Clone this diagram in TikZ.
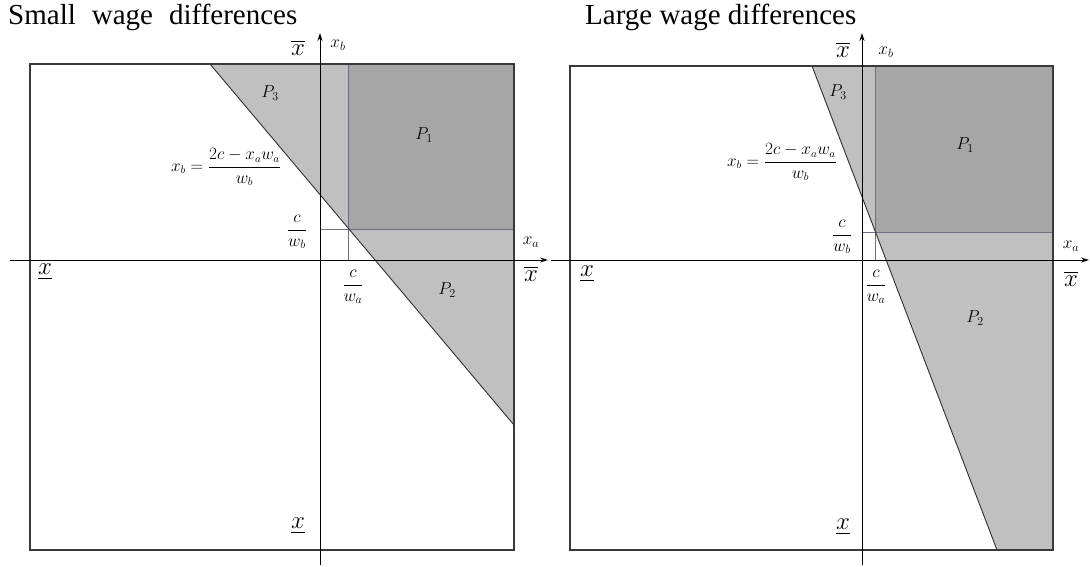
\documentclass[tikz,border=0pt]{standalone}
\usepackage{amsmath}
\usepackage{fontspec}
\setmainfont{Liberation Serif}
\usetikzlibrary{arrows.meta}
\definecolor{darkfill}{HTML}{A6A6A6}
\definecolor{lightfill}{HTML}{C0C0C0}
\definecolor{boxline}{HTML}{3A3A3A}
\definecolor{guideline}{HTML}{6E6E7C}
\definecolor{cutline}{HTML}{2E2E3A}
\begin{document}
\begin{tikzpicture}[x=1pt, y=-1pt,
  boxframe/.style={draw=boxline, line width=1.3pt},
  axis/.style={-{Stealth[length=8pt,width=5pt]}, line width=0.9pt, black},
  guide/.style={draw=guideline, line width=0.8pt},
  cut/.style={draw=cutline, line width=0.9pt},
  bound/.style={font=\fontsize{26}{28}\selectfont, inner sep=1pt},
  var/.style={font=\fontsize{18}{20}\selectfont, inner sep=1pt},
  frac/.style={font=\fontsize{18}{20}\selectfont, inner sep=1pt},
  formula/.style={font=\fontsize{16}{18}\selectfont, inner sep=1pt},
  region/.style={font=\fontsize{17}{19}\selectfont, inner sep=1pt},
  ttl/.style={font=\fontsize{29}{32}\selectfont, anchor=west, inner sep=0pt}]
\useasboundingbox (0,0) rectangle (1090,567);
% Small wage differences
\fill[lightfill] (210,64) -- (514,64) -- (514,425) -- cycle;
\fill[darkfill] (348,64) rectangle (514,229);
\draw[guide] (348,64) -- (348,260);
\draw[guide] (320,229) -- (514,229);
\draw[cut] (210,64) -- (514,425);
\draw[boxframe] (30,64) rectangle (514,550);
\draw[axis] (10,260) -- (548,260);
\draw[axis] (320,565) -- (320,33);
\node[ttl] (titleL) at (8,17) {\spaceskip=16pt Small wage differences};
\node[bound] (xbarL) at (298,48) {$\overline{x}$};
\node[var] (xbL) at (338,45) {$x_b$};
\node[var] (xaL) at (531,242) {$x_a$};
\node[bound] (xbarAL) at (531,274) {$\overline{x}$};
\node[bound] (xlowL) at (45,272) {$\underline{x}$};
\node[bound] (xlowBL) at (298,526) {$\underline{x}$};
\node[frac] (cwbL) at (297,232) {$\dfrac{c}{w_b}$};
\node[frac] (cwaL) at (353,287) {$\dfrac{c}{w_a}$};
\node[formula] (lineL) at (226,167) {$x_b=\dfrac{2c-x_aw_a}{w_b}$};
\node[region] (pThreeL) at (270,93) {$P_3$};
\node[region] (pOneL) at (424,135) {$P_1$};
\node[region] (pTwoL) at (447,290) {$P_2$};
% Large wage differences
\fill[lightfill] (812,66) -- (1053,66) -- (1053,550) -- (997,550) -- cycle;
\fill[darkfill] (875,66) rectangle (1053,232);
\draw[guide] (875,66) -- (875,260);
\draw[guide] (862,232) -- (1053,232);
\draw[cut] (812,66) -- (997,550);
\draw[boxframe] (570,66) rectangle (1053,550);
\draw[axis] (551,260) -- (1089,260);
\draw[axis] (862,565) -- (862,33);
\node[ttl] (titleR) at (585,17) {Large wage differences};
\node[bound] (xbarR) at (843,50) {$\overline{x}$};
\node[var] (xbR) at (886,52) {$x_b$};
\node[var] (xaR) at (1071,246) {$x_a$};
\node[bound] (xbarAR) at (1071,279) {$\overline{x}$};
\node[bound] (xlowR) at (587,274) {$\underline{x}$};
\node[bound] (xlowBR) at (843,527) {$\underline{x}$};
\node[frac] (cwbR) at (842,237) {$\dfrac{c}{w_b}$};
\node[frac] (cwaR) at (876,287) {$\dfrac{c}{w_a}$};
\node[formula] (lineR) at (782,162) {$x_b=\dfrac{2c-x_aw_a}{w_b}$};
\node[region] (pThreeR) at (838,92) {$P_3$};
\node[region] (pOneR) at (965,145) {$P_1$};
\node[region] (pTwoR) at (975,318) {$P_2$};
\end{tikzpicture}
\end{document}
